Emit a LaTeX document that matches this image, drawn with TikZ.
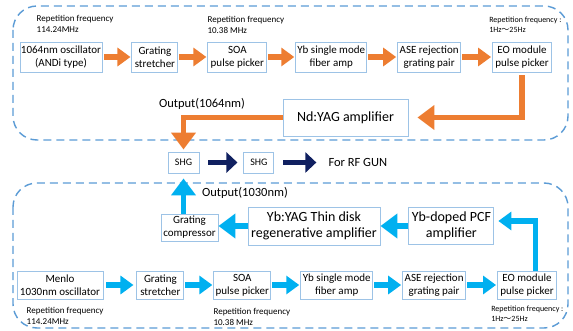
\documentclass[tikz,border=0pt]{standalone}
\usepackage{fontspec}
\setmainfont{Carlito}
\newfontfamily\cjk{Noto Sans CJK SC}
\usetikzlibrary{arrows.meta, positioning}
\usepackage{xcolor}
\definecolor{laranja}{RGB}{237, 125, 49}
\definecolor{azul}{RGB}{0, 176, 240}
\definecolor{marinho}{RGB}{16, 32, 96}
\definecolor{borda}{RGB}{157, 195, 230}
\definecolor{tracejado}{RGB}{91, 155, 213}
\tikzset{
  caixa/.style={
    draw=borda, line width=0.9pt, fill=white, minimum height=30pt,
    font=\fontsize{11}{13}\selectfont, align=center, inner sep=1pt
  },
  caixaG/.style={caixa, font=\fontsize{14}{16.5}\selectfont},
  caixaP/.style={caixa, minimum height=21pt, font=\fontsize{10}{12}\selectfont},
  rotulo/.style={font=\fontsize{9}{10.5}\selectfont, align=left, inner sep=0pt},
  rotuloP/.style={rotulo, font=\fontsize{8}{10}\selectfont},
  saida/.style={font=\fontsize{12.5}{14}\selectfont, inner sep=0pt},
  moldura/.style={draw=tracejado, line width=1.4pt, dash pattern=on 8pt off 5pt, rounded corners=24pt},
  seta/.style={line width=5.5pt, -{Triangle[length=13pt, width=18pt]}},
  setaG/.style={line width=5.5pt, -{Triangle[length=17pt, width=24pt]}},
  setaL/.style={seta, laranja},
  setaA/.style={seta, azul},
  setaM/.style={seta, marinho, -{Triangle[length=11pt, width=20pt]}},
}
\newcommand{\umavinte}{1Hz{\cjk ～}25Hz}

\begin{document}
\begin{tikzpicture}[x=1pt, y=-1pt]
        \useasboundingbox (0,0) rectangle (573,331);
        \draw[moldura] (13,6) rectangle (568,140);
        \draw[moldura] (13,183) rectangle (568,328);

        % 1064nm line
        \node[caixa, minimum width=82pt] (osc1) at (61,57) {1064nm oscillator\\(ANDi type)};
        \node[caixa, minimum width=46pt, right=29pt of osc1] (str1) {Grating\\stretcher};
        \node[caixa, minimum width=59pt, right=29pt of str1] (soa1) {SOA\\pulse picker};
        \node[caixa, minimum width=71pt, right=28pt of soa1] (yb1) {Yb single mode\\fiber amp};
        \node[caixa, minimum width=63pt, right=30pt of yb1] (ase1) {ASE rejection\\grating pair};
        \node[caixa, minimum width=59pt, right=31pt of ase1] (eo1) {EO module\\pulse picker};

        \node[rotulo, above right=9pt and 17pt of osc1.north west] (rep1) {Repetition frequency\\114.24MHz};
        \node[rotulo, above right=8pt and 0pt of soa1.north west] (rep2) {Repetition frequency\\10.38 MHz};
        \node[rotuloP, above right=9pt and -3pt of eo1.north west] (rep3) {Repetition frequency :\\\umavinte};

        \node[caixaG, minimum width=125pt, minimum height=37pt] (nd) at (345.5,117.5) {Nd:YAG amplifier};
        \node[saida] (out1) at (202,104) {Output(1064nm)};

        % SHG
        \node[caixaP, minimum width=31pt] (shg1) at (183.5,162.5) {SHG};
        \node[caixaP, minimum width=30pt, right=44pt of shg1] (shg2) {SHG};
        \node[saida, right=54pt of shg2] (rfgun) {For RF GUN};

        % 1030nm line
        \node[caixa, minimum width=86pt, minimum height=28pt] (osc2) at (60,285) {Menlo\\1030nm oscillator};
        \node[caixa, minimum width=47pt, minimum height=28pt, right=33pt of osc2] (str2) {Grating\\stretcher};
        \node[caixa, minimum width=57pt, minimum height=28pt, right=29pt of str2] (soa2) {SOA\\pulse picker};
        \node[caixa, minimum width=72pt, minimum height=28pt, right=29pt of soa2] (yb2) {Yb single mode\\fiber amp};
        \node[caixa, minimum width=63pt, minimum height=28pt, right=29pt of yb2] (ase2) {ASE rejection\\grating pair};
        \node[caixa, minimum width=59pt, minimum height=28pt, right=31pt of ase2] (eo2) {EO module\\pulse picker};

        \node[rotulo, below right=8pt and 10pt of osc2.south west] (rep4) {Repetition frequency\\114.24MHz};
        \node[rotulo, below right=9pt and 0pt of soa2.south west] (rep5) {Repetition frequency\\10.38 MHz};
        \node[rotuloP, below right=6pt and -6pt of eo2.south west] (rep6) {Repetition frequency :\\\umavinte};

        \node[caixaG, minimum width=132pt, minimum height=38pt] (yag) at (314,226) {Yb:YAG Thin disk\\regenerative amplifier};
        \node[caixaG, minimum width=85pt, minimum height=37pt, right=28pt of yag] (pcf) {Yb-doped PCF\\amplifier};
        \node[caixa, minimum width=57pt, minimum height=27pt] (gcomp) at (189.5,227.5) {Grating\\compressor};
        \node[saida] (out2) at (245,193) {Output(1030nm)};

        \draw[setaL, shorten <=2pt, shorten >=1pt] (osc1) -- (str1);
        \draw[setaL, shorten <=1pt, shorten >=1pt] (str1) -- (soa1);
        \draw[setaL, shorten <=1pt, shorten >=1pt] (soa1) -- (yb1);
        \draw[setaL, shorten <=1pt, shorten >=1pt] (yb1) -- (ase1);
        \draw[setaL, shorten <=1pt, shorten >=1pt] (ase1) -- (eo1);
        \draw[setaG, laranja, shorten <=3pt, shorten >=9pt] (eo1.south) |- (nd.east);
        \draw[setaG, laranja, shorten >=2pt] (nd.west) -| (shg1.north);

        \draw[setaM, shorten <=9pt, shorten >=6pt] (shg1) -- (shg2);
        \draw[setaM, shorten <=9pt, shorten >=12pt] (shg2) -- (rfgun);

        \draw[setaA, shorten <=3pt, shorten >=3pt] (osc2) -- (str2);
        \draw[setaA, shorten <=1pt, shorten >=1pt] (str2) -- (soa2);
        \draw[setaA, shorten <=1pt, shorten >=1pt] (soa2) -- (yb2);
        \draw[setaA, shorten <=1pt, shorten >=1pt] (yb2) -- (ase2);
        \draw[setaA, shorten <=1pt, shorten >=1pt] (ase2) -- (eo2);
        \draw[setaA, shorten >=4pt] ([xshift=8.5pt]eo2.north) |- ([yshift=5pt]pcf.east);
        \draw[setaG, azul] (pcf.west) -- (pcf.west -| yag.east);
        \draw[setaG, azul] (yag.west) -- (yag.west -| gcomp.east);
        \draw[setaG, azul, shorten >=5pt] (gcomp.north -| shg1.south) -- (shg1.south);
      \end{tikzpicture}
\end{document}
